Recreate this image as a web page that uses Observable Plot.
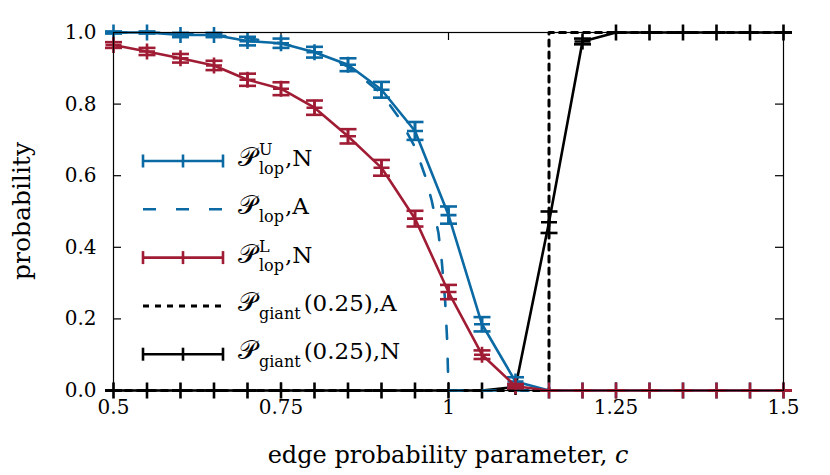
<!DOCTYPE html>
<html><head><meta charset="utf-8">
<script src="https://cdn.jsdelivr.net/npm/d3@7"></script>
<script src="https://cdn.jsdelivr.net/npm/@observablehq/plot@0.6"></script>
<style>body{margin:0;background:#fff} svg{display:block}</style>
</head><body><div id="chart"></div>
<script>
// ---- data ----
const cValues   = [0.5,0.55,0.6,0.65,0.7,0.75,0.8,0.85,0.9,0.95,1.0,1.05,1.1,1.15,1.2,1.25,1.3,1.35,1.4,1.45,1.5];
const lopUpperN = [1.0,1.0,0.993,0.993,0.976,0.970,0.945,0.910,0.840,0.725,0.490,0.185,0.025,0,0,0,0,0,0,0,0];
const lopUpperE = [0.003,0.003,0.006,0.006,0.012,0.013,0.015,0.018,0.022,0.025,0.024,0.02,0.012,0,0,0,0,0,0,0,0];
const lopLowerN = [0.965,0.947,0.928,0.908,0.868,0.843,0.790,0.710,0.622,0.480,0.275,0.100,0.012,0,0,0,0,0,0,0,0];
const lopLowerE = [0.008,0.010,0.012,0.013,0.017,0.018,0.020,0.020,0.022,0.022,0.020,0.012,0.006,0,0,0,0,0,0,0,0];
const giantN    = [0,0,0,0,0,0,0,0,0,0,0,0,0.010,0.470,0.975,1,1,1,1,1,1];
const giantE    = [0,0,0,0,0,0,0,0,0,0,0,0,0.006,0.030,0.008,0,0,0,0,0,0];
const lopA_c    = [0.5,0.55,0.6,0.65,0.7,0.75,0.8,0.85,0.9,0.925,0.95,0.965,0.975,0.985,0.99,0.995,0.998,1.0,1.5];
const lopA_p    = [1.0,1.0,0.998,0.993,0.984,0.970,0.946,0.905,0.830,0.765,0.680,0.600,0.530,0.440,0.360,0.250,0.140,0.0,0.0];
const giantA_c  = [0.5,1.15,1.15,1.5];
const giantA_p  = [0,0,1,1];
const xTicks = [0.5,0.75,1,1.25,1.5];
const xTickLabels = ["0.5","0.75","1","1.25","1.5"];
const yTicks = [0,0.2,0.4,0.6,0.8,1.0];
const yTickLabels = ["0.0","0.2","0.4","0.6","0.8","1.0"];
const xLabel = "edge probability parameter, ";
const xLabelVar = "c";
const yLabel = "probability";
const legendSup  = ["U", null, "L", null, null];
const legendSub  = ["lop","lop","lop","giant","giant"];
const legendTail = [",N", ",A", ",N", "(0.25),A", "(0.25),N"];

// ---- styles ----
const BLUE = "#0b69a3", RED = "#a01c34", BLACK = "#000";
const FONT = "'DejaVu Serif', 'Liberation Serif', serif";
const LW = 2.6;
const W = 830, H = 475, ML = 113, MR = 47, MT = 32, MB = 85;
const IW = W - ML - MR, IH = H - MT - MB, TL = 8;

const rows = (ys, es) => cValues.map((c, i) => ({c, p: ys[i], lo: ys[i] - es[i], hi: ys[i] + es[i]}));
const lineRows = (xs, ys) => xs.map((c, i) => ({c, p: ys[i]}));

const capSym = {draw(ctx, size) { const r = Math.sqrt(size / Math.PI); ctx.moveTo(-r, 0); ctx.lineTo(r, 0); }};
const plusSym = {draw(ctx, size) { const r = Math.sqrt(size / Math.PI); ctx.moveTo(-r, 0); ctx.lineTo(r, 0); ctx.moveTo(0, -r); ctx.lineTo(0, r); }};

function errSeries(data, color) {
  return [
    Plot.line(data, {x: "c", y: "p", stroke: color, strokeWidth: LW}),
    Plot.ruleX(data, {x: "c", y1: "lo", y2: "hi", stroke: color, strokeWidth: LW}),
    Plot.dot(data, {x: "c", y: "lo", symbol: capSym, r: 8.5, fill: "none", stroke: color, strokeWidth: LW}),
    Plot.dot(data, {x: "c", y: "hi", symbol: capSym, r: 8.5, fill: "none", stroke: color, strokeWidth: LW}),
    Plot.dot(data, {x: "c", y: "p", symbol: plusSym, r: 8, fill: "none", stroke: color, strokeWidth: LW})
  ];
}

const chart = Plot.plot({
  width: W, height: H,
  marginLeft: ML, marginRight: MR, marginTop: MT, marginBottom: MB,
  style: {fontFamily: FONT, fontSize: "20px", background: "#fff", color: "#000"},
  x: {domain: [0.5, 1.5], axis: null},
  y: {domain: [0, 1], axis: null},
  marks: [
    // inward ticks on all four sides
    Plot.tickX(xTicks, {x: (d) => d, insetTop: IH - TL, stroke: BLACK, strokeWidth: 1.2}),
    Plot.tickX(xTicks, {x: (d) => d, insetBottom: IH - TL, stroke: BLACK, strokeWidth: 1.2}),
    Plot.tickY(yTicks, {y: (d) => d, insetRight: IW - TL, stroke: BLACK, strokeWidth: 1.2}),
    Plot.tickY(yTicks, {y: (d) => d, insetLeft: IW - TL, stroke: BLACK, strokeWidth: 1.2}),
    Plot.line(lineRows(giantA_c, giantA_p), {x: "c", y: "p", stroke: BLACK, strokeWidth: 3, strokeDasharray: "6,6"}),
    ...errSeries(rows(giantN, giantE), BLACK),
    ...errSeries(rows(lopUpperN, lopUpperE), BLUE),
    Plot.line(lineRows(lopA_c, lopA_p), {x: "c", y: "p", stroke: BLUE, strokeWidth: LW, strokeDasharray: "13,20"}),
    ...errSeries(rows(lopLowerN, lopLowerE), RED),
    Plot.frame({stroke: BLACK, strokeWidth: 1.2}),
    Plot.axisX({anchor: "bottom", ticks: xTicks, tickSize: 0, tickPadding: 9, tickFormat: (d) => xTickLabels[xTicks.indexOf(d)], label: null}),
    Plot.axisY({anchor: "left", ticks: yTicks, tickSize: 0, tickPadding: 17, tickFormat: (d) => yTickLabels[yTicks.indexOf(d)], label: null})
  ]
});
document.getElementById("chart").appendChild(chart);

// ---- axis labels ----
const svg = d3.select(chart);
const xl = svg.append("text").attr("x", 448).attr("y", 463).attr("text-anchor", "middle")
  .attr("font-family", FONT).attr("font-size", 24).attr("fill", "#000");
xl.append("tspan").text(xLabel);
xl.append("tspan").attr("font-style", "italic").text(xLabelVar);
svg.append("text").attr("transform", "translate(30,211) rotate(-90)").attr("text-anchor", "middle")
  .attr("font-family", FONT).attr("font-size", 25).attr("fill", "#000").text(yLabel);

// ---- legend ----
const legendStyle = [
  {stroke: BLUE, dash: null, err: true},
  {stroke: BLUE, dash: "13,20", err: false},
  {stroke: RED, dash: null, err: true},
  {stroke: BLACK, dash: "6,6", err: false},
  {stroke: BLACK, dash: null, err: true}
];
const lx0 = 143, lx1 = 223, tx = 238, ly0 = 161, ldy = 48.3;
const SUB = 16;
const lg = svg.append("g").attr("text-anchor", "start");
function textWidth(str, size) {
  const tmp = lg.append("text").attr("font-family", FONT).attr("font-size", size).text(str);
  const w = tmp.node().getComputedTextLength();
  tmp.remove();
  return w;
}
legendStyle.forEach((s, i) => {
  const y = ly0 + i * ldy;
  lg.append("line").attr("x1", lx0).attr("x2", lx1).attr("y1", y).attr("y2", y)
    .attr("stroke", s.stroke).attr("stroke-width", s.dash === "6,6" ? 3 : LW).attr("stroke-dasharray", s.dash);
  if (s.err) {
    [lx0, (lx0 + lx1) / 2, lx1].forEach(x => lg.append("line").attr("x1", x).attr("x2", x)
      .attr("y1", y - 6.5).attr("y2", y + 6.5).attr("stroke", s.stroke).attr("stroke-width", LW));
  }
  const base = y + 5;
  const t = lg.append("text").attr("x", tx).attr("y", base).attr("font-family", FONT)
    .attr("font-size", 23).attr("fill", "#000").attr("text-anchor", "start");
  t.append("tspan").attr("font-size", 26).text("𝒫");
  if (legendSup[i]) {
    const sw = textWidth(legendSup[i], SUB);
    t.append("tspan").attr("font-size", SUB).attr("dx", 2).attr("dy", -11).text(legendSup[i]);
    // step back under the superscript for the stacked subscript
    t.append("tspan").attr("font-size", SUB).attr("dx", -sw).attr("dy", 19).text(legendSub[i]);
    t.append("tspan").attr("dx", 1).attr("dy", -8).text(legendTail[i]);
  } else {
    t.append("tspan").attr("font-size", SUB).attr("dx", 2).attr("dy", 8).text(legendSub[i]);
    t.append("tspan").attr("dx", legendTail[i][0] === "(" ? 3 : 1).attr("dy", -8).text(legendTail[i]);
  }
});
</script>
</body></html>
